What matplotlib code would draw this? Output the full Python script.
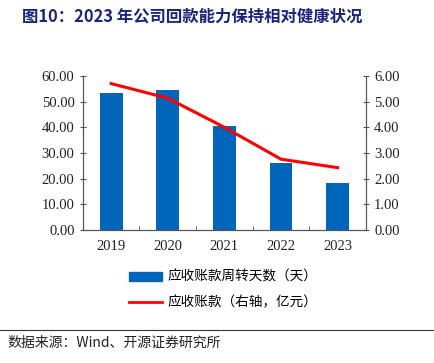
import matplotlib.pyplot as plt
import numpy as np
from matplotlib.lines import Line2D
from matplotlib.patches import Patch

years = ["2019", "2020", "2021", "2022", "2023"]
turnover_days = [53.4, 54.6, 40.6, 26.0, 18.4]
receivables = [5.70, 5.13, 4.00, 2.76, 2.43]

serif = ["Liberation Serif", "DejaVu Serif"]
cjk = ["Noto Sans CJK SC", "DejaVu Sans"]

fig = plt.figure(figsize=(4.34, 3.63), dpi=100)
ax = fig.add_axes([0.191, 0.366, 0.652, 0.425])
ax2 = ax.twinx()

x = np.arange(len(years))
ax.bar(x, turnover_days, width=0.4, color="#0066BB", zorder=2)
ax2.plot(x, receivables, color="#FF0000", lw=2.2, zorder=3)

ax.set_xlim(-0.5, len(years) - 0.5)
ax.set_ylim(0, 60)
ax.set_yticks(np.arange(0, 61, 10))
ax.set_yticklabels([f"{v:.2f}" for v in np.arange(0, 61, 10)])
ax2.set_ylim(0, 6)
ax2.set_yticks(np.arange(0, 7, 1))
ax2.set_yticklabels([f"{v:.2f}" for v in np.arange(0, 7, 1)])

ax.set_xticks(x)
ax.set_xticklabels(years)
ax.set_xticks(np.arange(-0.5, len(years), 1), minor=True)
ax.tick_params(axis="x", which="major", length=0, pad=7)
ax.tick_params(axis="x", which="minor", direction="in", length=3, color="#555555")
ax.tick_params(axis="y", direction="inout", length=4, color="#555555", pad=4)
ax2.tick_params(axis="y", direction="inout", length=4, color="#555555", pad=4)

for a in (ax, ax2):
    a.spines["top"].set_visible(False)
    for s in ("left", "right", "bottom"):
        a.spines[s].set_color("#555555")
        a.spines[s].set_linewidth(0.8)
    for lab in a.get_xticklabels() + a.get_yticklabels():
        lab.set_family(serif)
        lab.set_fontsize(10.5)
        lab.set_color("#222222")

handles = [Patch(color="#0066BB"), Line2D([], [], color="#FF0000", lw=2)]
labels = ["应收账款周转天数（天）", "应收账款（右轴，亿元）"]
fig.legend(handles, labels, loc="upper left", bbox_to_anchor=(0.27, 0.29),
           bbox_transform=fig.transFigure, frameon=False, prop={"family": cjk, "size": 9.8},
           handlelength=2.4, handleheight=0.6, labelspacing=0.85, handletextpad=0.4)

fig.text(0.05, 0.955, "图10：2023 年公司回款能力保持相对健康状况", family=cjk, fontsize=11.8,
         fontweight="bold", color="#1a237e", va="center")
fig.add_artist(Line2D([0, 1], [0.09, 0.09], color="#333333", lw=0.8, transform=fig.transFigure))
fig.text(0.018, 0.055, "数据来源：Wind、开源证券研究所", family=cjk, fontsize=10,
         color="#222222", va="center")

fig.savefig("out.png", dpi=100)
